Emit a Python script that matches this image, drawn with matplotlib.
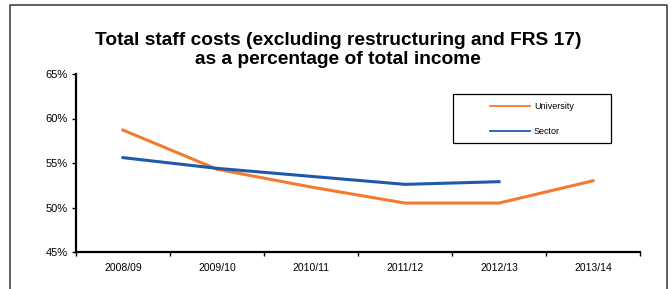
import matplotlib.pyplot as plt
from matplotlib.lines import Line2D
from matplotlib.patches import Rectangle

plt.rcParams['font.family'] = ['Liberation Sans', 'DejaVu Sans']

years = ["2008/09", "2009/10", "2010/11", "2011/12", "2012/13", "2013/14"]
university = [58.7, 54.3, 52.3, 50.5, 50.5, 53.0]
sector = [55.6, 54.4, 53.5, 52.6, 52.9]
yticks = [45, 50, 55, 60, 65]

fig = plt.figure(figsize=(6.71, 2.89), dpi=100)
ax = fig.add_axes([76 / 671, 1 - 252 / 289, (640 - 76) / 671, (252 - 74) / 289])

x_uni = [i + 0.5 for i in range(len(university))]
x_sec = [i + 0.5 for i in range(len(sector))]
ax.plot(x_uni, university, color="#f47a30", lw=2.2)
ax.plot(x_sec, sector, color="#1f5aa8", lw=2.2)

ax.set_xlim(0, len(years))
ax.set_ylim(45, 65)
ax.set_xticks(range(len(years) + 1))
ax.set_xticklabels([])
ax.set_xticks([i + 0.5 for i in range(len(years))], minor=True)
ax.set_xticklabels(years, minor=True)
ax.tick_params(axis="x", which="minor", length=0, pad=8, labelsize=7.5)
ax.tick_params(axis="x", which="major", length=3, width=1, direction="out")
ax.set_yticks(yticks)
ax.set_yticklabels([f"{v}%" for v in yticks], fontsize=8)
ax.tick_params(axis="y", length=3, width=1, direction="out", pad=3)

for s in ["top", "right"]:
    ax.spines[s].set_visible(False)
ax.spines["left"].set_linewidth(1.6)
ax.spines["bottom"].set_linewidth(1.6)

# legend box drawn by hand to match the wide boxed legend
def fx(px):
    return px / 671

def fy(py):
    return 1 - py / 289

fig.add_artist(Rectangle((fx(453), fy(143)), fx(611) - fx(453), fy(94) - fy(143),
                         fill=False, edgecolor="black", lw=0.9, transform=fig.transFigure))
for label, color, py in [("University", "#f47a30", 106), ("Sector", "#1f5aa8", 131)]:
    fig.add_artist(Line2D([fx(490), fx(530)], [fy(py), fy(py)], color=color, lw=1.3,
                          transform=fig.transFigure))
    fig.text(fx(534), fy(py), label, fontsize=6.5, va="center", ha="left")

fig.text(338 / 671, 1 - 50 / 289,
         "Total staff costs (excluding restructuring and FRS 17)\nas a percentage of total income",
         ha="center", va="center", fontsize=13.8, fontweight="bold", linespacing=1.2)

# outer border
bx0, bx1, by0 = 10 / 671, 667 / 671, 1 - 5 / 289
fig.add_artist(Line2D([bx0, bx0, bx1, bx1], [0, by0, by0, 0], color="#444444", lw=1.2,
                      transform=fig.transFigure))

fig.savefig("out.png", dpi=100)
